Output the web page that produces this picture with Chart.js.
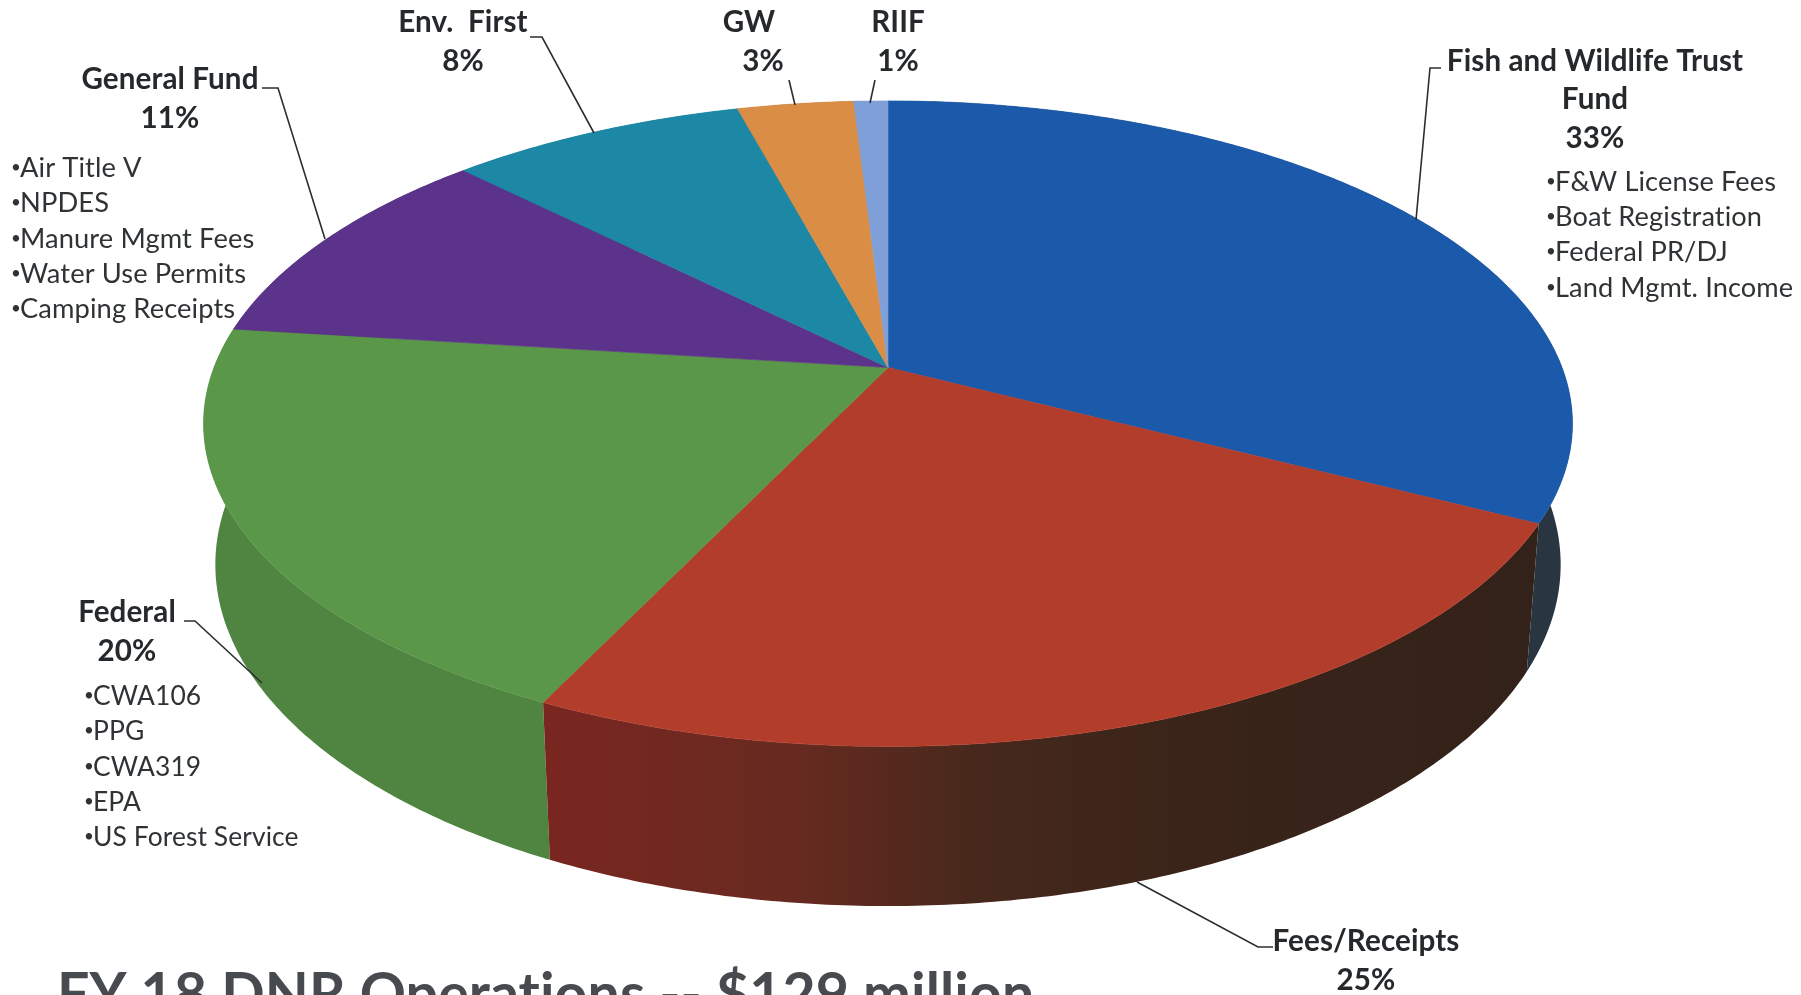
<!DOCTYPE html>
<html>
<head>
<meta charset="utf-8">
<title>FY 18 DNR Operations</title>
<script src="https://cdn.jsdelivr.net/npm/chart.js@4"></script>
<style>
  html, body { margin: 0; padding: 0; background: #fff; overflow: hidden; }
  canvas { display: block; }
</style>
</head>
<body>
<canvas id="myChart" width="1801" height="995"></canvas>
<script>
const categories = ['Fish and Wildlife Trust Fund', 'Fees/Receipts', 'Federal', 'General Fund', 'Env. First', 'GW', 'RIIF'];
// shares (the printed labels are rounded)
const shares = [32.6, 24.5, 19.9, 10.5, 8.3, 3.25, 0.95];
const topColors = ['#1b5aab', '#b23d2b', '#5a9748', '#5c338a', '#1c88a5', '#da8e45', '#7f9fd9'];
const sideColors = ['#2a3542', '#6a2a1e', '#4f8540', '#3c2660', '#145c70', '#8f5a2a', '#55699a'];

const fishBullets = ['F&W License Fees', 'Boat Registration', 'Federal PR/DJ', 'Land Mgmt. Income'];
const generalBullets = ['Air Title V', 'NPDES', 'Manure Mgmt Fees', 'Water Use Permits', 'Camping Receipts'];
const federalBullets = ['CWA106', 'PPG', 'CWA319', 'EPA', 'US Forest Service'];
const titleText = 'FY 18 DNR Operations -- $129 million';

// perspective of the disc: top face and the ring underneath it
const view = { cx: 888, cy: 367.5, W: 674, H: 313, k: 0.174, m: 0.017, D: 141 };

function project(angle, bottom) {
  const t = angle + Math.PI / 2;
  const u = Math.sin(t), v = -Math.cos(t);
  const d = 1 - view.k * v + (bottom ? view.m : 0);
  return {
    x: view.cx + view.W * u / d,
    y: view.cy + (view.H * v + (bottom ? view.D : 0)) / d
  };
}

function traceRim(ctx, from, to, bottom) {
  const steps = Math.max(2, Math.ceil(Math.abs(to - from) / 0.01));
  for (let i = 0; i <= steps; i++) {
    const p = project(from + (to - from) * i / steps, bottom);
    ctx.lineTo(p.x, p.y);
  }
}

function sideFill(ctx, i) {
  if (i !== 1) return sideColors[i];
  const g = ctx.createLinearGradient(540, 0, 1530, 0);
  g.addColorStop(0, '#7a2620');
  g.addColorStop(0.25, '#682a20');
  g.addColorStop(0.45, '#46281c');
  g.addColorStop(0.65, '#3a2419');
  g.addColorStop(1, '#33221a');
  return g;
}

const disc3d = {
  id: 'disc3d',
  beforeDatasetDraw(chart) {
    const ctx = chart.ctx;
    const arcs = chart.getDatasetMeta(0).data;
    const order = arcs.map((a, i) => i).sort((a, b) => {
      const mid = n => (arcs[n].startAngle + arcs[n].endAngle) / 2 + Math.PI / 2;
      return -Math.cos(mid(a)) - -Math.cos(mid(b));
    });
    ctx.save();
    order.forEach(i => {
      ctx.beginPath();
      traceRim(ctx, arcs[i].startAngle, arcs[i].endAngle, false);
      traceRim(ctx, arcs[i].endAngle, arcs[i].startAngle, true);
      ctx.closePath();
      ctx.fillStyle = sideFill(ctx, i);
      ctx.fill();
    });
    arcs.forEach((arc, i) => {
      ctx.beginPath();
      ctx.moveTo(view.cx, view.cy);
      traceRim(ctx, arc.startAngle, arc.endAngle, false);
      ctx.closePath();
      ctx.fillStyle = arc.options.backgroundColor;
      ctx.strokeStyle = arc.options.backgroundColor;
      ctx.lineWidth = 0.6;
      ctx.fill();
      ctx.stroke();
    });
    ctx.restore();
    return false;
  },
  afterDraw(chart) {
    const ctx = chart.ctx;
    ctx.save();
    ctx.strokeStyle = '#2b2e31';
    ctx.lineWidth = 1.6;
    [
      [[262, 88], [278, 88], [325, 239]],
      [[530, 37], [542, 37], [594, 133]],
      [[789, 80], [795, 105]],
      [[875, 80], [870, 103]],
      [[1441, 68], [1430, 68], [1416, 220]],
      [[1273, 947], [1258, 947], [1137, 882]],
      [[184, 621], [195, 621], [262, 683]]
    ].forEach(line => {
      ctx.beginPath();
      line.forEach(p => ctx.lineTo(p[0], p[1]));
      ctx.stroke();
    });

    // a tiny letter spacing also keeps Lato from joining "ti" into a ligature
    ctx.letterSpacing = '0.1px';
    ctx.fillStyle = '#26292c';
    ctx.textBaseline = 'alphabetic';
    ctx.font = 'bold 29.6px Lato';
    ctx.textAlign = 'center';
    const heads = [
      ['Fish and Wildlife Trust', 1595, 71], ['Fund', 1595, 109], ['33%', 1595, 148],
      ['Fees/Receipts', 1366, 951], ['25%', 1366, 990],
      ['Federal', 127, 622], ['20%', 127, 661],
      ['General Fund', 170, 89], ['11%', 170, 128],
      ['Env.  First', 463, 32], ['8%', 463, 71],
      ['GW', 749, 32], ['3%', 763, 71],
      ['RIIF', 898, 32], ['1%', 898, 71]
    ];
    heads.forEach(h => ctx.fillText(h[0], h[1], h[2]));

    ctx.textAlign = 'left';
    ctx.fillStyle = '#303336';
    const bullets = (list, x, y, gap, size) => list.forEach((b, i) => {
      ctx.font = '17px Lato';
      ctx.fillText('\u2022', x, y - 4 + i * gap);
      ctx.font = size + 'px Lato';
      ctx.fillText(b, x + 9, y + i * gap);
    });
    bullets(fishBullets, 1546, 191, 35.2, 27.2);
    bullets(generalBullets, 11, 177, 35.3, 27.3);
    bullets(federalBullets, 84, 705, 35.3, 26.4);

    ctx.font = 'bold 57.2px Lato';
    ctx.fillStyle = '#474b50';
    ctx.fillText(titleText, 57, 1014);
    ctx.restore();
  }
};

new Chart(document.getElementById('myChart'), {
  type: 'pie',
  data: {
    labels: categories,
    datasets: [{ data: shares, backgroundColor: topColors, borderWidth: 0 }]
  },
  options: {
    responsive: false,
    animation: false,
    devicePixelRatio: 1,
    plugins: { legend: { display: false }, tooltip: { enabled: false } }
  },
  plugins: [disc3d]
});
</script>
</body>
</html>
